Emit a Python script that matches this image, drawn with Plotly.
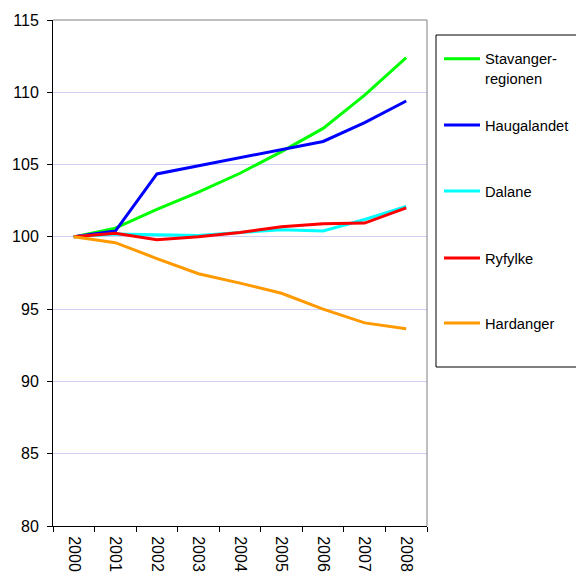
import plotly.graph_objects as go

years = ["2000", "2001", "2002", "2003", "2004", "2005", "2006", "2007", "2008"]
stavanger = [100, 100.6, 101.9, 103.1, 104.4, 105.9, 107.5, 109.8, 112.4]
haugalandet = [100, 100.4, 104.35, 104.9, 105.5, 106.0, 106.6, 107.9, 109.4]
dalane = [100, 100.2, 100.15, 100.1, 100.3, 100.5, 100.4, 101.2, 102.1]
ryfylke = [100, 100.25, 99.8, 100.0, 100.3, 100.7, 100.9, 100.95, 102.0]
hardanger = [100, 99.6, 98.5, 97.45, 96.8, 96.1, 95.0, 94.05, 93.65]

names = ["Stavanger-<br>regionen", "Haugalandet", "Dalane", "Ryfylke", "Hardanger"]
values = [stavanger, haugalandet, dalane, ryfylke, hardanger]
colors = ["#00FF00", "#0000FF", "#00FFFF", "#FF0000", "#FF9900"]

L, T, PW, PH = 53, 20, 374, 506
W, H = 576, 576

def py(fig_y):
    return 1 - (fig_y - T) / PH

def px(fig_x):
    return (fig_x - L) / PW

legend_centers = [57.7, 124, 190, 257, 322]

fig = go.Figure()
layout_legends = {}
for i, (name, vals, col) in enumerate(zip(names, values, colors)):
    lname = "legend" if i == 0 else f"legend{i + 1}"
    fig.add_trace(go.Scatter(x=years, y=vals, name=name, mode="lines",
                             line=dict(color=col, width=3), legend=lname))
    top = legend_centers[i] - 15
    layout_legends[lname] = dict(
        x=px(439), xanchor="left", y=py(top), yanchor="top",
        borderwidth=0, bgcolor="rgba(0,0,0,0)", valign="top", itemwidth=36,
        font=dict(size=14.7, family="Liberation Sans, Arial, sans-serif"))

fig.update_layout(
    width=W, height=H,
    margin=dict(l=L, r=W - L - PW, t=T, b=H - T - PH, autoexpand=False),
    paper_bgcolor="white", plot_bgcolor="white",
    font=dict(family="Liberation Sans, Arial, sans-serif", size=16, color="black"),
    showlegend=True,
    xaxis=dict(type="category", tickangle=90, showline=True, linecolor="black",
               linewidth=1, ticks="outside", ticklen=5, tickcolor="black",
               tickson="boundaries", showgrid=False, ticklabelstandoff=6,
               range=[-0.5, 8.5]),
    yaxis=dict(range=[80, 115], dtick=5, showline=True, linecolor="black",
               linewidth=1, ticks="outside", ticklen=5, tickcolor="black",
               showgrid=True, gridcolor="#D0D0F6", gridwidth=1, zeroline=False,
               ticklabelstandoff=5),
    shapes=[
        dict(type="line", xref="paper", yref="paper", x0=0, x1=1, y0=1, y1=1,
             line=dict(color="#808080", width=1)),
        dict(type="line", xref="paper", yref="paper", x0=1, x1=1, y0=0, y1=1,
             line=dict(color="#808080", width=1)),
        dict(type="rect", xref="paper", yref="paper",
             x0=px(436), x1=px(620), y0=py(367), y1=py(35),
             line=dict(color="black", width=1), fillcolor="rgba(0,0,0,0)",
             layer="below"),
    ],
    **layout_legends,
)

fig.write_html(
    "out.html",
    config={"displayModeBar": False},
    post_script="document.body.style.margin='0';document.body.style.overflow='hidden';",
)
